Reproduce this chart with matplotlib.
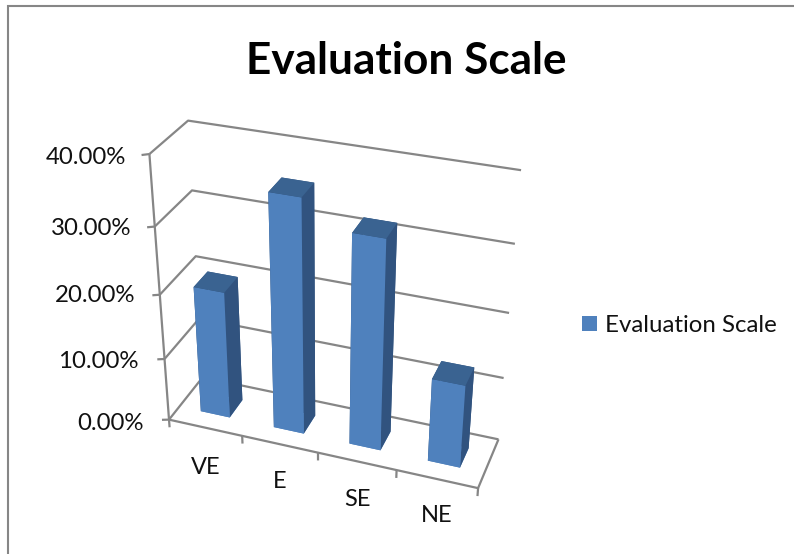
import numpy as np
import matplotlib
matplotlib.use('Agg')
import matplotlib.pyplot as plt
from matplotlib.lines import Line2D
from matplotlib.patches import Rectangle

categories = ['VE', 'E', 'SE', 'NE']
values = [20, 35.7, 32, 13]
z_ticks = [0, 10, 20, 30, 40]
z_labels = ['0.00%', '10.00%', '20.00%', '30.00%', '40.00%']
series_name = 'Evaluation Scale'

W, H = 794, 554
GRID = '#868686'
FRONT, SIDE, TOP = '#4F81BD', '#31537F', '#3A6391'

plt.rcParams['font.family'] = ['Lato', 'DejaVu Sans']

fig = plt.figure(figsize=(W/100, H/100), dpi=100)
ax = fig.add_subplot(projection='3d', computed_zorder=False)
ax.set_xlim(0, len(categories))
ax.set_ylim(0, 1)
ax.set_zlim(0, z_ticks[-1])
ax.view_init(30.784, -70.396, -0.224)
ax.set_proj_type('persp', focal_length=0.537)
ax.set_box_aspect((1, 0.2535, 0.9118))
ax.set_axis_off()

# place the square axes so that one 2d view unit is 2457 px
scale, cx, cy = 2457.14, 332.57, 303.75
left = cx - 0.095*scale
bottom = H - (cy + 0.095*scale)
side = 0.185*scale
ax.set_position([left/W, bottom/H, side/W, side/H])

# walls and floor
line = dict(color=GRID, lw=1.6, zorder=1, solid_capstyle='butt')
n = len(categories)
for z in z_ticks:
    ax.plot([0, 0, n], [0, 1, 1], [z, z, z], **line)
    ax.plot([-0.1, 0], [0, 0], [z - 0.3, z], **line)
ax.plot([0, 0], [0, 0], [0, z_ticks[-1]], **line)
ax.plot([0, n, n], [0, 0, 1], [0, 0, 0], **line)
for k in range(n + 1):
    ax.plot([k, k], [0, 0], [0, -1.3], **line)

# one box per category, gap of 150% in both directions
faces = [FRONT, TOP, FRONT, SIDE, SIDE, SIDE]
for i, v in enumerate(values):
    ax.bar3d(i + 0.3, 0.3, 0, 0.4, 0.4, v, color=faces, shade=False,
             linewidth=0, zorder=2 + i)

def px_text(x, y, s, **kw):
    fig.text(x/W, 1 - y/H, s, va='center', **kw)

px_text(406.5, 61, series_name, ha='center', fontsize=31.8, fontweight='bold', color='black')
for x, y, s in zip([144, 139, 135, 131, 126], [424, 362, 296, 228, 157], z_labels):
    px_text(x, y, s, ha='right', fontsize=17.3, color='#111111')
for x, y, s in zip([206, 280, 357, 437], [468, 482, 500, 516], categories):
    px_text(x, y, s, ha='center', fontsize=17, color='#111111')

# legend
fig.add_artist(Rectangle((582/W, 1 - 331/H), 15/W, 15/H, color=FRONT, lw=0))
px_text(605, 325, series_name, ha='left', fontsize=17.3, color='#111111')

# outer chart border, open on the right and at the bottom
border = Line2D([8/W, 8/W, 1], [0, 1 - 6/H, 1 - 6/H], color=GRID, lw=1.5,
                solid_joinstyle='miter')
fig.add_artist(border)

fig.savefig('out.png', dpi=100)
